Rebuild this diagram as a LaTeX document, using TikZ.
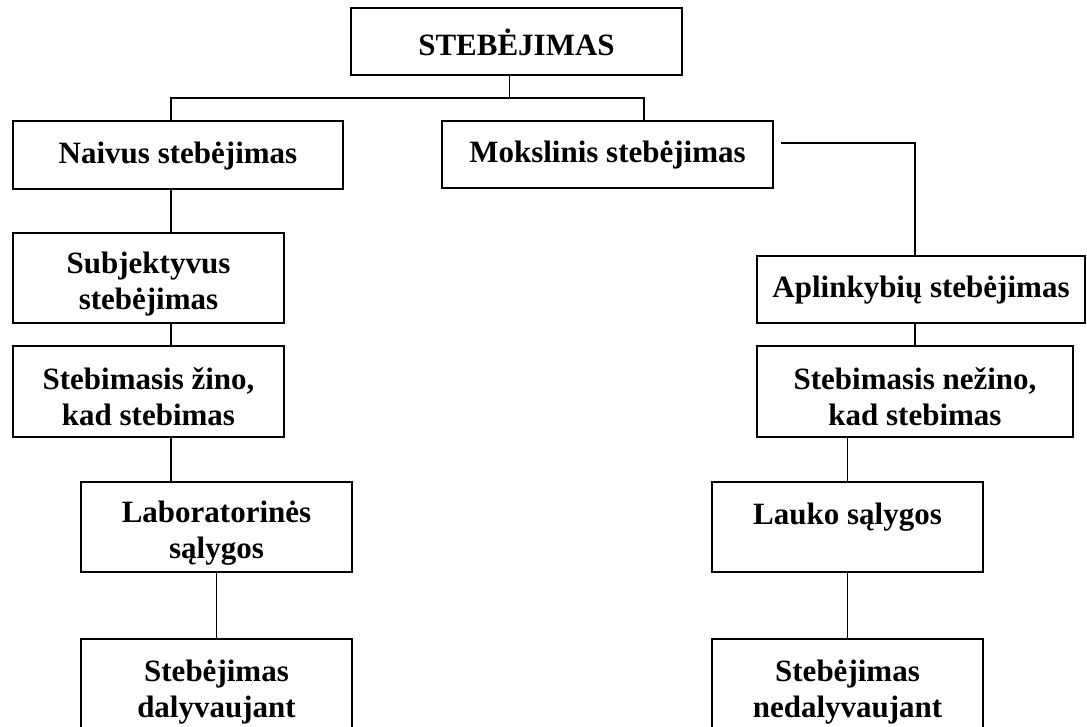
\documentclass[tikz,border=0pt]{standalone}
\usepackage{fontspec}
\setmainfont{Liberation Serif}
\begin{document}
\begin{tikzpicture}[x=1pt,y=-1pt,
  frame/.style={draw, line width=1.8pt, inner sep=0pt},
  txt/.style={inner sep=0pt, align=center,
    font=\fontsize{31}{35.5}\selectfont\bfseries},
  link/.style={line width=1.8pt}]
\useasboundingbox (0,0) rectangle (1087,727);
\clip (0,0) rectangle (1087,727);
\fill[white] (0,0) rectangle (1087,727);

% top level
\node[frame, minimum width=331pt, minimum height=67pt] (steb) at (516.5,41.5) {};
\node[txt] (stebt) at ([yshift=-1pt]steb.center) {STEBĖJIMAS};

% second level
\node[frame, minimum width=330pt, minimum height=68pt] (naivus) at (178,155) {};
\node[txt] (naivust) at ([yshift=-1.5pt]naivus.center) {Naivus stebėjimas};
\node[frame, minimum width=331pt, minimum height=67pt] (moks) at (607.5,154.5) {};
\node[txt] (mokst) at ([yshift=-1pt]moks.center) {Mokslinis stebėjimas};

% left branch
\node[frame, minimum width=271pt, minimum height=90pt] (subj) at (148.5,278) {};
\node[txt] (subjt) at ([yshift=-6pt]subj.center) {Subjektyvus\\stebėjimas};
\node[frame, minimum width=271pt, minimum height=91pt] (zino) at (148.5,391.5) {};
\node[txt] (zinot) at ([yshift=-5pt]zino.center) {Stebimasis žino,\\kad stebimas};
\node[frame, minimum width=271pt, minimum height=90pt] (lab) at (216.5,527) {};
\node[txt] (labt) at ([yshift=-6pt]lab.center) {Laboratorinės\\sąlygos};
\node[frame, minimum width=271pt, minimum height=106pt] (dal) at (216.5,692) {};
\node[txt] (dalt) at (dal.center) {Stebėjimas\\dalyvaujant};

% right branch
\node[frame, minimum width=328pt, minimum height=67pt] (aplink) at (921,289.5) {};
\node[txt] (aplinkt) at ([yshift=-1pt]aplink.center) {Aplinkybių stebėjimas};
\node[frame, minimum width=316pt, minimum height=91pt] (nezino) at (915,391.5) {};
\node[txt] (nezinot) at ([yshift=-5pt]nezino.center) {Stebimasis nežino,\\kad stebimas};
\node[frame, minimum width=271pt, minimum height=90pt] (lauko) at (847.5,527) {};
\node[txt] (laukot) at ([yshift=-4pt]lauko.center) {Lauko sąlygos\\\mbox{}};
\node[frame, minimum width=271pt, minimum height=106pt] (nedal) at (847.5,692) {};
\node[txt] (nedalt) at (nedal.center) {Stebėjimas\\nedalyvaujant};

% tree bus under the top box
\coordinate (busy) at (0,98);
\draw[link] ([xshift=-7pt]steb.south) -- ([xshift=-7pt]steb.south |- busy);
\draw[link] ([xshift=-7pt]naivus.north) |- ([xshift=36.5pt]moks.north |- busy)
  -- ([xshift=36.5pt]moks.north);

% left chain
\draw[link] ([xshift=-7pt]naivus.south) -- ([xshift=22.5pt]subj.north);
\draw[link] ([xshift=22.5pt]subj.south) -- ([xshift=22.5pt]zino.north);
\draw[link] ([xshift=22.5pt]zino.south) -- ([xshift=22.5pt]zino.south |- lab.north);
\draw[link] (lab.south) -- (dal.north);

% right chain
\draw[link] ([xshift=7pt,yshift=11.5pt]moks.east) -| ([xshift=-6pt]aplink.north);
\draw[link] (nezino.north |- aplink.south) -- (nezino.north);
\draw[link] (lauko.north |- nezino.south) -- (lauko.north);
\draw[link] (lauko.south) -- (nedal.north);
\end{tikzpicture}
\end{document}
